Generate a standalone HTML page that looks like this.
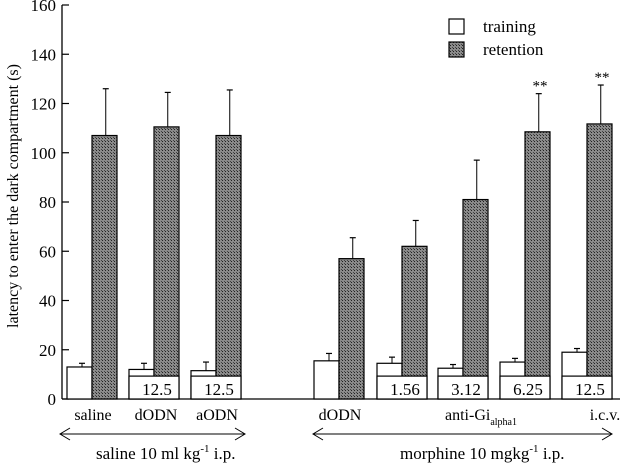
<!DOCTYPE html>
<html><head><meta charset="utf-8"><style>
body{margin:0;background:#fff}
svg{display:block;font-family:"Liberation Serif",serif}
</style></head><body>
<svg id="chart" width="640" height="463" viewBox="0 0 640 463" xmlns="http://www.w3.org/2000/svg">
<defs>
<pattern id="hatch" width="3" height="3" patternUnits="userSpaceOnUse">
<rect width="3" height="3" fill="#8a8a8a"/><rect width="1" height="1" fill="#222"/><rect x="2" y="2" width="1" height="1" fill="#444"/>
</pattern>
</defs>
<g id="plot"></g>
</svg>
<script>
const groups=["saline","dODN","aODN","m-dODN","1.56","3.12","6.25","12.5"];
const training=[13,12,11.5,15.5,14.5,12.5,15,19];
const trainingErr=[1.5,2.5,3.5,3,2.5,1.5,1.5,1.5];
const retention=[107,110.5,107,57,62,81,108.5,111.7];
const retentionErr=[19,14,18.5,8.5,10.5,16,15.5,15.8];
const doseLabels=["","12.5","12.5","","1.56","3.12","6.25","12.5"];
const yTicks=[0,20,40,60,80,100,120,140,160];
const stars=["","","","","","","**","**"];

const groupX=[67,129,191,314,377,438,500,562];
const bw=25;
const y=v=>399-v*(394/160);
const ns="http://www.w3.org/2000/svg";
const g=document.getElementById('plot');
function el(t,a,txt){const e=document.createElementNS(ns,t);for(const k in a)e.setAttribute(k,a[k]);if(txt!==undefined)e.textContent=txt;g.appendChild(e);return e;}

let ax=el('line',{x1:62,y1:5,x2:62,y2:399,stroke:'#000','stroke-width':1.3});


let bx=el('line',{x1:62,y1:399,x2:620,y2:399,stroke:'#000','stroke-width':1.3});


yTicks.forEach(t=>{
  let l=el('line',{x1:62,y1:y(t),x2:69,y2:y(t),stroke:'#000','stroke-width':1.2});
  
  
  let tx=el('text',{x:56,y:y(t)+6,'text-anchor':'end','font-size':17},String(t));
  
  
});
let yt=el('text',{transform:'translate(18,196) rotate(-90)','text-anchor':'middle','font-size':16},'latency to enter the dark compartment (s)');



groups.forEach((gname,i)=>{
  const x0=groupX[i];
  let e1=el('line',{x1:x0+bw*0.6,y1:y(training[i]),x2:x0+bw*0.6,y2:y(training[i]+trainingErr[i]),stroke:'#000','stroke-width':1});
  
  
  let c1=el('line',{x1:x0+bw*0.6-3,y1:y(training[i]+trainingErr[i]),x2:x0+bw*0.6+3,y2:y(training[i]+trainingErr[i]),stroke:'#000','stroke-width':1.2});
  
  
  let b1=el('rect',{x:x0,y:y(training[i]),width:bw,height:y(0)-y(training[i]),fill:'#fff',stroke:'#000','stroke-width':1.2});
  
  
  const x1=x0+bw;
  let e2=el('line',{x1:x1+bw*0.55,y1:y(retention[i]),x2:x1+bw*0.55,y2:y(retention[i]+retentionErr[i]),stroke:'#000','stroke-width':1});
  
  
  let c2=el('line',{x1:x1+bw*0.55-3,y1:y(retention[i]+retentionErr[i]),x2:x1+bw*0.55+3,y2:y(retention[i]+retentionErr[i]),stroke:'#000','stroke-width':1.2});
  
  
  let b2=el('rect',{x:x1,y:y(retention[i]),width:bw,height:y(0)-y(retention[i]),fill:'url(#hatch)',stroke:'#000','stroke-width':1.2});
  
  
  if(doseLabels[i]){
    let d=el('rect',{x:x0,y:y(9.3),width:bw*2,height:y(0)-y(9.3),fill:'#fff',stroke:'#000','stroke-width':1.2});
    
    
    let dt=el('text',{x:x0+bw+3,y:395,'text-anchor':'middle','font-size':17},doseLabels[i]);
    
    
  }
  if(stars[i]){
    let s=el('text',{x:x1+bw*0.6,y:y(retention[i]+retentionErr[i])-3,'text-anchor':'middle','font-size':15},stars[i]);
    
    
  }
});

[["saline",93],["dODN",156],["aODN",217],["dODN",340],["i.c.v.",605]].forEach(([t,x])=>{
  let c=el('text',{x:x,y:420,'text-anchor':'middle','font-size':16},t);
  
  
});
let ag=el('text',{x:445,y:420,'font-size':16},'anti-Gi');


let sub=el('tspan',{dy:5,'font-size':10},'alpha1');ag.appendChild(sub);

function arrow(xa,xb,name){
  let l=el('path',{d:`M${xa+10},428 L${xa},434 L${xa+10},440 M${xa},434 L${xb},434 M${xb-10},428 L${xb},434 L${xb-10},440`,fill:'none',stroke:'#000','stroke-width':1});
  
  
}
arrow(60,245,'saline-arrow');arrow(313,612,'morphine-arrow');
let t1=el('text',{x:96,y:459,'font-size':17},'saline 10 ml kg');


let s1=el('tspan',{dy:-7,'font-size':11},'-1');t1.appendChild(s1);
let s1b=el('tspan',{dy:7},' i.p.');t1.appendChild(s1b);
let t2=el('text',{x:400,y:459,'font-size':17},'morphine 10 mgkg');


let s2=el('tspan',{dy:-7,'font-size':11},'-1');t2.appendChild(s2);
let s2b=el('tspan',{dy:7},' i.p.');t2.appendChild(s2b);

let lb1=el('rect',{x:449,y:19,width:15,height:15,fill:'#fff',stroke:'#000','stroke-width':1.2});


let lt1=el('text',{x:483,y:32,'font-size':17},'training');


let lb2=el('rect',{x:449,y:42,width:15,height:15,fill:'url(#hatch)',stroke:'#000','stroke-width':1.2});


let lt2=el('text',{x:483,y:55,'font-size':17},'retention');


</script>
</body></html>
